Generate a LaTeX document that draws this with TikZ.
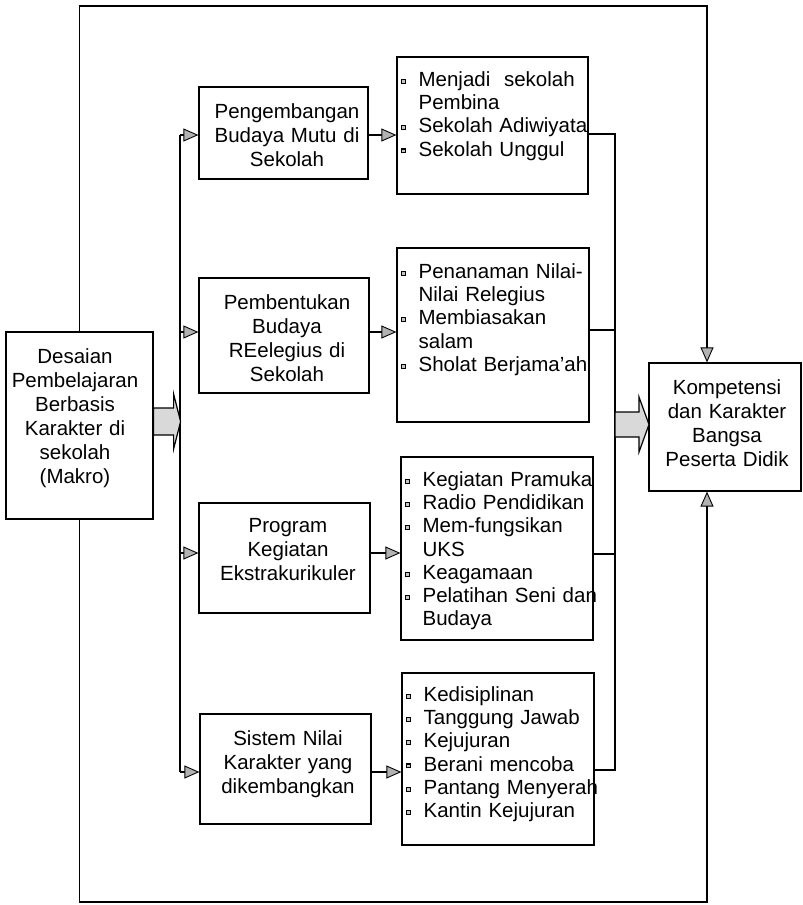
\documentclass[tikz,border=0pt]{standalone}
\usepackage{fontspec}
\setmainfont{Liberation Sans}
\usetikzlibrary{arrows.meta,calc}

% small square bullet used in the item lists
\newcommand\itembul{\makebox[18pt][l]{\raisebox{2.6pt}{\rule{5pt}{5pt}}\hspace{-3.9pt}\raisebox{3.7pt}{\textcolor{gray!45}{\rule{2.8pt}{2.8pt}}}}}
\newcommand\itemind{\hspace*{18pt}}

\tikzset{
  box/.style={draw, line width=1.2pt, inner sep=0pt},
  ctext/.style={font=\fontsize{20.5}{24}\selectfont, align=center, text width=#1, inner sep=0pt, anchor=base},
  ltext/.style={font=\fontsize{20.5}{23.2}\selectfont, align=left, text width=210pt, inner sep=0pt, anchor=base west},
  link/.style={line width=1.2pt},
  tip/.style={line width=1.2pt, -{Triangle[length=15pt,width=13pt,fill=gray!60,line width=0.9pt]}},
  fat/.style={draw, line width=1.2pt, fill=gray!30, line join=miter},
}

\begin{document}
\begin{tikzpicture}[x=1pt,y=-1pt]
\useasboundingbox (0,0) rectangle (803,905);

% helper positions for the long runs of line
\coordinate (bus) at (180,0);
\coordinate (col) at (615,0);
\coordinate (rx)  at (707,0);
\coordinate (top) at (0,6);
\coordinate (bot) at (0,902);

% source box
\node[box, minimum width=147pt, minimum height=187pt] (lb) at (79.5,425.5) {};
\node[ctext=150pt] (lbt) at (75,363) {Desaian\\Pembelajaran\\Berbasis\\Karakter di\\sekolah\\(Makro)};

% programme boxes
\node[box, minimum width=169pt, minimum height=92pt]  (b1) at (283.5,133) {};
\node[ctext=172pt] (b1t) at (287,118) {Pengembangan\\Budaya Mutu di\\Sekolah};
\node[box, minimum width=170pt, minimum height=115pt] (b2) at (284,335.5) {};
\node[ctext=172pt] (b2t) at (287,309) {Pembentukan\\Budaya\\REelegius di\\Sekolah};
\node[box, minimum width=171pt, minimum height=110pt] (b3) at (284.5,558) {};
\node[ctext=172pt] (b3t) at (288,532) {Program\\Kegiatan\\Ekstrakurikuler};
\node[box, minimum width=171pt, minimum height=110pt] (b4) at (285.5,769) {};
\node[ctext=172pt] (b4t) at (288,745) {Sistem Nilai\\Karakter yang\\dikembangkan};

% item list boxes
\node[box, minimum width=191pt, minimum height=137pt] (l1) at (492.5,125.5) {};
\node[ltext] (l1t) at ($(l1.north west)+(4,30)$) {\itembul Menjadi~ sekolah\\\itemind Pembina\\\itembul Sekolah Adiwiyata\\\itembul Sekolah Unggul};
\node[box, minimum width=192pt, minimum height=174pt] (l2) at (493,335) {};
\node[ltext] (l2t) at ($(l2.north west)+(4,31)$) {\itembul Penanaman Nilai-\\\itemind Nilai Relegius\\\itembul Membiasakan\\\itemind salam\\\itembul Sholat Berjama'ah};
\node[box, minimum width=192pt, minimum height=183pt] (l3) at (497,548.5) {};
\node[ltext] (l3t) at ($(l3.north west)+(4,30)$) {\itembul Kegiatan Pramuka\\\itembul Radio Pendidikan\\\itembul Mem-fungsikan\\\itemind UKS\\\itembul Keagamaan\\\itembul Pelatihan Seni dan\\\itemind Budaya};
\node[box, minimum width=192pt, minimum height=172pt] (l4) at (498,759) {};
\node[ltext] (l4t) at ($(l4.north west)+(4,29)$) {\itembul Kedisiplinan\\\itembul Tanggung Jawab\\\itembul Kejujuran\\\itembul Berani mencoba\\\itembul Pantang Menyerah\\\itembul Kantin Kejujuran};

% outcome box
\node[box, minimum width=152pt, minimum height=128pt] (kb) at (725,427) {};
\node[ctext=152pt] (kbt) at (727,394) {Kompetensi\\dan Karakter\\Bangsa\\Peserta Didik};

% outer loops from the source box to the outcome box
\draw[tip] (lb.north) -- (lb.north |- top) -- (rx |- top) -- (kb.north -| rx);
\draw[tip] (lb.south) -- (lb.south |- bot) -- (rx |- bot) -- (kb.south -| rx);

% distribution bus
\draw[link] ([yshift=-2pt]b1.west -| bus) -- ([yshift=-3pt]b4.west -| bus);
\draw[tip] ([yshift=-2pt]b1.west -| bus) -- ([yshift=-2pt]b1.west);
\draw[tip] ([yshift=3.5pt]b2.west -| bus) -- ([yshift=3.5pt]b2.west);
\draw[tip] ([yshift=5pt]b3.west -| bus) -- ([yshift=5pt]b3.west);
\draw[tip] ([yshift=-3pt]b4.west -| bus) -- ([yshift=-3pt]b4.west);

% programme boxes to their item lists
\draw[tip] ([yshift=-2pt]b1.east) -- ([yshift=-2pt]b1.east -| l1.west);
\draw[tip] ([yshift=3.5pt]b2.east) -- ([yshift=3.5pt]b2.east -| l2.west);
\draw[tip] ([yshift=5pt]b3.east) -- ([yshift=5pt]b3.east -| l3.west);
\draw[tip] ([yshift=-3pt]b4.east) -- ([yshift=-3pt]b4.east -| l4.west);

% collector from the item lists
\draw[link] ([yshift=-8.5pt]l1.east) -- ([yshift=-8.5pt]l1.east -| col) -- ([yshift=-11pt]l4.east -| col) -- ([yshift=-11pt]l4.east);
\draw[link] ([yshift=5pt]l2.east) -- ([yshift=5pt]l2.east -| col);
\draw[link] ([yshift=-5.5pt]l3.east) -- ([yshift=-5.5pt]l3.east -| col);

% block arrows
\begin{scope}[shift={($(lb.east)+(0,-4)$)}]
  \draw[fat] (0,-13.5) -- (20,-13.5) -- (20,-27.5) -- (27,0) -- (20,27.5) -- (20,13.5) -- (0,13.5) -- cycle;
\end{scope}
\begin{scope}[shift={($(kb.west -| col)+(0,-2.5)$)}]
  \draw[fat] (0,-12.5) -- (24,-12.5) -- (24,-27.5) -- (34,0) -- (24,27.5) -- (24,12.5) -- (0,12.5) -- cycle;
\end{scope}
\end{tikzpicture}
\end{document}
